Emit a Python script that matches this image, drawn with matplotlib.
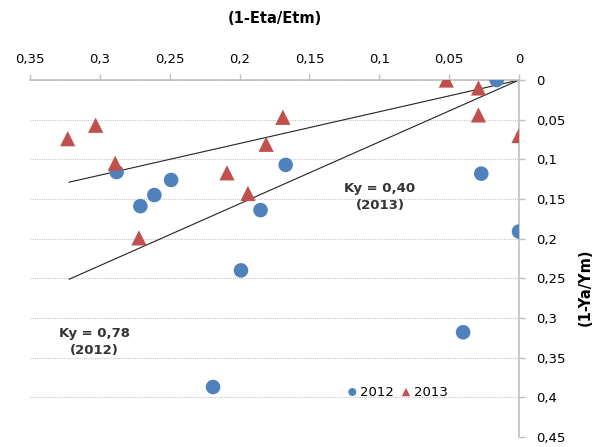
import matplotlib.pyplot as plt
from matplotlib.ticker import FuncFormatter

# data (x = 1-Eta/Etm, y = 1-Ya/Ym)
x_2012 = [0.016, 0.288, 0.271, 0.261, 0.249, 0.167, 0.185, 0.199, 0.027, 0.0, 0.040, 0.219]
y_2012 = [0.0, 0.116, 0.159, 0.145, 0.126, 0.107, 0.164, 0.240, 0.118, 0.191, 0.318, 0.387]

x_2013 = [0.323, 0.303, 0.289, 0.272, 0.209, 0.194, 0.181, 0.169, 0.052, 0.029, 0.029, 0.0]
y_2013 = [0.074, 0.057, 0.105, 0.199, 0.117, 0.143, 0.081, 0.047, 0.0, 0.010, 0.044, 0.070]

# fitted lines through the origin
line_x = [0.322, 0.0]
ky_2013 = 0.40
ky_2012 = 0.78

xticks = [0.35, 0.3, 0.25, 0.2, 0.15, 0.1, 0.05, 0]
yticks = [0, 0.05, 0.1, 0.15, 0.2, 0.25, 0.3, 0.35, 0.4, 0.45]

blue = '#4F81BD'
red = '#C0504D'
grey = '#BFBFBF'

fig = plt.figure(figsize=(6, 4.47), dpi=100)
ax = fig.add_axes([0.05, 0.0224, 0.815, 0.7986])

ax.plot(line_x, [v * ky_2013 for v in line_x], color='#222222', lw=0.8, zorder=2)
ax.plot(line_x, [v * ky_2012 for v in line_x], color='#222222', lw=0.8, zorder=2)

ax.scatter(x_2012, y_2012, s=110, color=blue, marker='o', edgecolors='none', zorder=3, label='2012')
ax.scatter(x_2013, y_2013, s=120, color=red, marker='^', edgecolors='none', zorder=3, label='2013')

ax.set_xlim(0.35, 0)
ax.set_ylim(0.45, 0)
ax.set_xticks(xticks)
ax.set_yticks(yticks)

comma = FuncFormatter(lambda v, p: ('%g' % round(v, 3)).replace('.', ','))
ax.xaxis.set_major_formatter(comma)
ax.yaxis.set_major_formatter(comma)

ax.xaxis.tick_top()
ax.yaxis.tick_right()
ax.tick_params(axis='both', colors=grey, labelcolor='black', labelsize=9.5, length=4, width=1)
ax.tick_params(axis='x', pad=6)
ax.tick_params(axis='y', pad=8)

for side in ['left', 'bottom']:
    ax.spines[side].set_visible(False)
for side in ['top', 'right']:
    ax.spines[side].set_color(grey)
    ax.spines[side].set_linewidth(1.2)

ax.grid(axis='y', color='#C8C8C8', lw=0.8, ls=(0, (1, 1)))
ax.set_axisbelow(True)

ax.set_xlabel('(1-Eta/Etm)', fontweight='bold', fontsize=10.5, labelpad=22)
ax.xaxis.set_label_position('top')
ax.set_ylabel('(1-Ya/Ym)', fontweight='bold', fontsize=10.5)
ax.yaxis.set_label_position('right')
ax.yaxis.set_label_coords(1.12, 0.42)

ax.text(0.0995, 0.147, 'Ky = 0,40\n(2013)', ha='center', va='center',
        fontsize=9.5, fontweight='bold', color='#333333', linespacing=1.4)
ax.text(0.304, 0.330, 'Ky = 0,78\n(2012)', ha='center', va='center',
        fontsize=9.5, fontweight='bold', color='#333333', linespacing=1.4)

ax.legend(loc='center', bbox_to_anchor=(0.75, 0.126), ncol=2, frameon=False,
          fontsize=9.5, handletextpad=0.1, columnspacing=0.4, markerscale=0.55,
          handlelength=1.0, borderaxespad=0)

fig.savefig('out.png', dpi=100)
